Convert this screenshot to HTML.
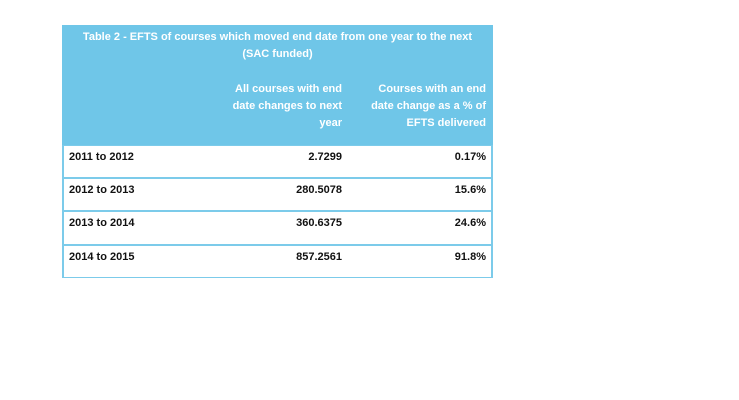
<!DOCTYPE html>
<html><head><meta charset="utf-8"><style>
body{margin:0;width:739px;height:400px;background:#fff;font-family:"Liberation Sans",Arial,sans-serif;font-weight:bold;font-size:11px;position:relative;overflow:hidden}
.a{position:absolute}
.hdr{left:62px;top:25px;width:431px;height:120px;background:#6fc6e8}
.t{color:#fff;text-align:center;width:431px;left:62px;line-height:17px}
.h{color:#fff;text-align:right;line-height:17px}
.row{left:62px;width:427px;height:30px;border:2px solid #7ccbea;border-top-width:1px;border-bottom-width:1px;background:#fff}
.c{color:#111;line-height:14px}
.r{text-align:right}
</style></head><body>
<div class="a hdr"></div>
<div class="a t" style="top:29px">Table 2 - EFTS of courses which moved end date from one year to the next<br>(SAC funded)</div>
<div class="a h" style="left:200px;width:142px;top:81px">All courses with end<br>date changes to next<br>year</div>
<div class="a h" style="left:350px;width:136px;top:81px">Courses with an end<br>date change as a % of<br>EFTS delivered</div>
<div class="a row" style="top:145px;height:31px"></div>
<div class="a row" style="top:178px;height:31px"></div>
<div class="a row" style="top:211px;height:32px"></div>
<div class="a row" style="top:245px;height:31px"></div>
<div class="a c" style="left:69px;top:150px">2011 to 2012</div>
<div class="a c r" style="left:250px;width:92px;top:150px">2.7299</div>
<div class="a c r" style="left:400px;width:86px;top:150px">0.17%</div>
<div class="a c" style="left:69px;top:183px">2012 to 2013</div>
<div class="a c r" style="left:250px;width:92px;top:183px">280.5078</div>
<div class="a c r" style="left:400px;width:86px;top:183px">15.6%</div>
<div class="a c" style="left:69px;top:216px">2013 to 2014</div>
<div class="a c r" style="left:250px;width:92px;top:216px">360.6375</div>
<div class="a c r" style="left:400px;width:86px;top:216px">24.6%</div>
<div class="a c" style="left:69px;top:250px">2014 to 2015</div>
<div class="a c r" style="left:250px;width:92px;top:250px">857.2561</div>
<div class="a c r" style="left:400px;width:86px;top:250px">91.8%</div>
</body></html>
